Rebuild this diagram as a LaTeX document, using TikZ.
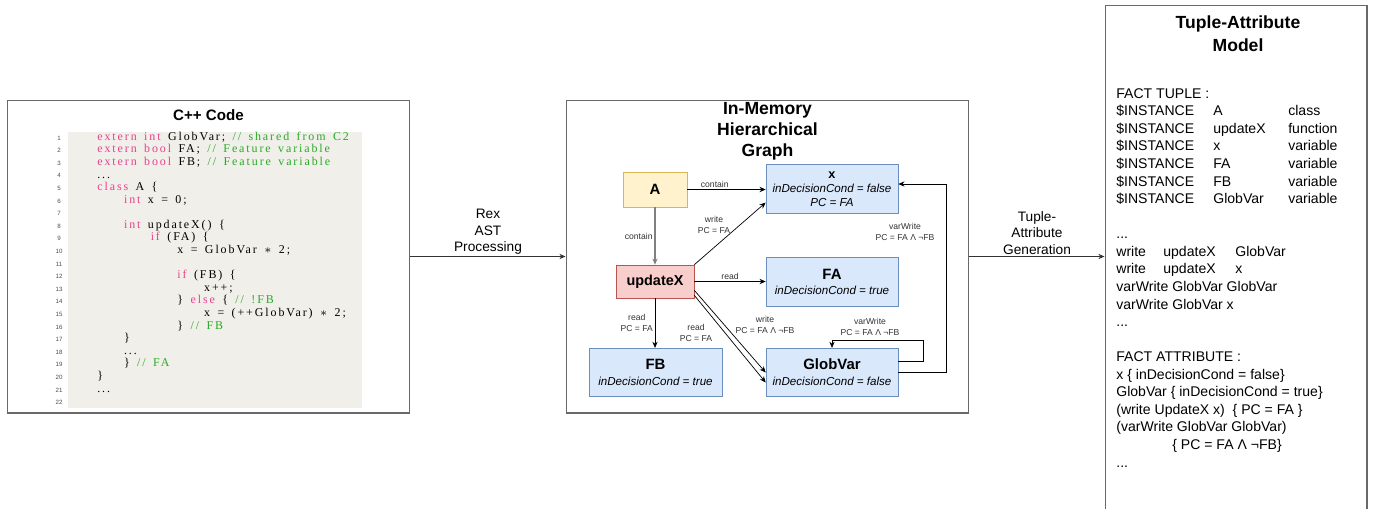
\documentclass[tikz,border=0pt]{standalone}
\usepackage{fontspec}
\setmainfont{Liberation Sans}
\newfontfamily\codefont{Liberation Serif}[LetterSpace=16]
\usepackage{xcolor}
\usetikzlibrary{arrows.meta, positioning, calc}

\definecolor{codepink}{RGB}{232,64,143}
\definecolor{codegreen}{RGB}{40,170,40}
\definecolor{codebg}{RGB}{240,239,233}
\definecolor{panelgray}{RGB}{105,105,105}
\definecolor{yellowfill}{HTML}{FFF2CC}
\definecolor{yellowline}{HTML}{D6B656}
\definecolor{redfill}{HTML}{F8CECC}
\definecolor{redline}{HTML}{B85450}
\definecolor{bluefill}{HTML}{DAE8FC}
\definecolor{blueline}{HTML}{6C8EBF}

\newcommand{\kw}[1]{\textcolor{codepink}{#1}}
\newcommand{\cmt}[1]{\textcolor{codegreen}{#1}}

\begin{document}
\begin{tikzpicture}[x=0.02cm, y=-0.02cm, >={Stealth[length=3.5pt,width=3pt]},
    panel/.style={draw=panelgray, line width=0.6pt, minimum width=8.06cm, minimum height=6.26cm, inner sep=0},
    title/.style={font=\fontsize{10}{12}\selectfont\bfseries, align=center, inner sep=0},
    flowlabel/.style={font=\fontsize{7.8}{9.4}\selectfont, align=center, inner sep=0pt},
    codeline/.style={anchor=base west, inner sep=0, font={\codefont\fontsize{6.8}{7.2}\selectfont\spaceskip=0.62em}},
    lnum/.style={anchor=base, inner sep=0, font={\rmfamily\fontsize{3.5}{4}\selectfont}, text=black!70},
    classbox/.style={draw=yellowline, fill=yellowfill, minimum width=1.28cm, minimum height=0.7cm, font=\fontsize{8.5}{10}\selectfont\bfseries},
    funcbox/.style={draw=redline, fill=redfill, minimum width=1.56cm, minimum height=0.66cm, font=\fontsize{8.2}{10}\selectfont\bfseries},
    varbox/.style={draw=blueline, fill=bluefill, minimum width=2.64cm, minimum height=0.97cm, align=center, inner sep=1pt, font=\fontsize{6.6}{8}\selectfont},
    elabel/.style={font=\fontsize{4.9}{6}\selectfont, align=center, inner sep=1pt, text=black!80},
    modeltext/.style={anchor=north west, inner sep=0, align=left, font=\fontsize{8}{10}\selectfont}
  ]
  \useasboundingbox (0,0) rectangle (1373,508);
  \clip (0,0) rectangle (1373,508);

  % C++ code panel
  \node[panel] (cpp) at (208.5,256.5) {};
  \node[title, font=\fontsize{8.6}{10}\selectfont\bfseries] (cpptitle) at (208.5,115) {C++ Code};
  \fill[codebg] (68,132) rectangle (362,408);
  \foreach \n in {1,...,22}
    \node[lnum] (ln\n) at (59,{140.2+(\n-1)*12.59}) {\n};
  \node[codeline] (c1) at (97,140.2) {\kw{extern int} GlobVar; \cmt{// shared from C2}};
  \node[codeline] (c2) at (97,152.8) {\kw{extern bool} FA; \cmt{// Feature variable}};
  \node[codeline] (c3) at (97,165.4) {\kw{extern bool} FB; \cmt{// Feature variable}};
  \node[codeline] (c4) at (97,178.0) {...};
  \node[codeline] (c5) at (97,190.6) {\kw{class} A \{};
  \node[codeline] (c6) at (123.7,203.2) {\kw{int} x = 0;};
  \node[codeline] (c8) at (123.7,228.3) {\kw{int} updateX() \{};
  \node[codeline] (c9) at (150.4,240.9) {\kw{if} (FA) \{};
  \node[codeline] (c10) at (177.1,253.5) {x = GlobVar $\ast$ 2;};
  \node[codeline] (c12) at (177.1,278.7) {\kw{if} (FB) \{};
  \node[codeline] (c13) at (203.8,291.3) {x++;};
  \node[codeline] (c14) at (177.1,303.9) {\} \kw{else} \{ \cmt{// !FB}};
  \node[codeline] (c15) at (203.8,316.5) {x = (++GlobVar) $\ast$ 2;};
  \node[codeline] (c16) at (177.1,329.1) {\} \cmt{// FB}};
  \node[codeline] (c17) at (123.7,341.7) {\}};
  \node[codeline] (c18) at (123.7,354.2) {...};
  \node[codeline] (c19) at (123.7,366.8) {\} \cmt{// FA}};
  \node[codeline] (c20) at (97,379.4) {\}};
  \node[codeline] (c21) at (97,392.0) {...};

  % graph panel
  \node[panel] (graph) at (767.5,256.5) {};
  \node[title] (graphtitle) at (767.5,131.5) {In-Memory\\Hierarchical\\Graph};

  \node[classbox] (A) at (655,189.5) {A};
  \node[varbox] (x) at (832,189) {{\fontsize{7.2}{8}\selectfont\bfseries x}\\ \textit{inDecisionCond = false}\\ \textit{PC = FA}};
  \node[funcbox] (updateX) at (655,281.5) {updateX};
  \node[varbox] (FA) at (832,282) {{\fontsize{8.5}{9}\selectfont\bfseries FA}\\[1pt] \textit{inDecisionCond = true}};
  \node[varbox, minimum width=2.66cm] (FB) at (655.5,372.5) {{\fontsize{8.5}{9}\selectfont\bfseries FB}\\[1pt] \textit{inDecisionCond = true}};
  \node[varbox] (GlobVar) at (832,372.5) {{\fontsize{8.5}{9}\selectfont\bfseries GlobVar}\\[1pt] \textit{inDecisionCond = false}};

  \draw[->] (A.east) -- (A.east -| x.west) node[elabel, pos=0.35, above] (lcontainx) {contain};
  \draw[->, gray, line width=0.8pt] (A.south) -- (updateX.north) node[elabel, midway, left] (lcontainu) {contain};
  \draw[->] (updateX.north east) -- ([yshift=0.22cm]x.south west);
  \node[elabel] (lwritex) at (714,225) {write\\PC = FA};
  \draw[->] (updateX.east) -- (updateX.east -| FA.west) node[elabel, midway, above] (lreadfa) {read};
  \draw[->] (updateX.south) -- (updateX.south |- FB.north) node[elabel, midway, left] (lreadfb) {read\\PC = FA};
  \draw[->] ([yshift=0.16cm]updateX.south east) -- (GlobVar.west);
  \draw[->] ([yshift=0.06cm]updateX.south east) -- ([yshift=-0.2cm]GlobVar.west);
  \node[elabel] (lreadg) at (696,333) {read\\PC = FA};
  \node[elabel] (lwriteg) at (765,325) {write\\PC = FA Λ ¬FB};
  \draw[->] ([yshift=0.22cm]GlobVar.east) -- ++(25,0) |- ([yshift=0.16cm]GlobVar.north) -- (GlobVar.north);
  \node[elabel] (lvarg) at (870,327) {varWrite\\PC = FA Λ ¬FB};
  \draw[->] (GlobVar.east) -- ++(48,0) |- ([yshift=0.1cm]x.east);
  \node[elabel] (lvarx) at (905,232) {varWrite\\PC = FA Λ ¬FB};

  % tuple-attribute panel
  \node[panel, minimum width=5.24cm, minimum height=10.3cm] (model) at (1236,262.5) {};
  \node[title, font=\fontsize{10}{13}\selectfont\bfseries] (modeltitle) at (1238,33.5) {Tuple-Attribute\\Model};
  \node[modeltext] (facts) at (1116,88) {%
    FACT TUPLE :\\
    \makebox[1.94cm][l]{\$INSTANCE}\makebox[1.5cm][l]{A}class\\
    \makebox[1.94cm][l]{\$INSTANCE}\makebox[1.5cm][l]{updateX}function\\
    \makebox[1.94cm][l]{\$INSTANCE}\makebox[1.5cm][l]{x}variable\\
    \makebox[1.94cm][l]{\$INSTANCE}\makebox[1.5cm][l]{FA}variable\\
    \makebox[1.94cm][l]{\$INSTANCE}\makebox[1.5cm][l]{FB}variable\\
    \makebox[1.94cm][l]{\$INSTANCE}\makebox[1.5cm][l]{GlobVar}variable\\
    \mbox{}\\
    ...\\
    \makebox[0.94cm][l]{write}\makebox[1.44cm][l]{updateX}GlobVar\\
    \makebox[0.94cm][l]{write}\makebox[1.44cm][l]{updateX}x\\
    varWrite GlobVar GlobVar\\
    varWrite GlobVar x\\
    ...\\
    \mbox{}\\
    FACT ATTRIBUTE :\\
    x \{ inDecisionCond = false\}\\
    GlobVar \{ inDecisionCond = true\}\\
    (write UpdateX x)\ \ \{ PC = FA \}\\
    (varWrite GlobVar GlobVar)\\
    \hspace*{1.12cm}\{ PC = FA Λ ¬FB\}\\
    ...};

  % flow arrows
  \draw[->, black!80] (cpp.east) -- (graph.west) node[flowlabel, midway, above=1pt, text=black] (lrex) {Rex\\AST\\Processing};
  \draw[->, black!80] (graph.east) -- (graph.east -| model.west) node[flowlabel, midway, above=1pt, text=black] (ltuple) {Tuple-\\Attribute\\Generation};
\end{tikzpicture}
\end{document}
